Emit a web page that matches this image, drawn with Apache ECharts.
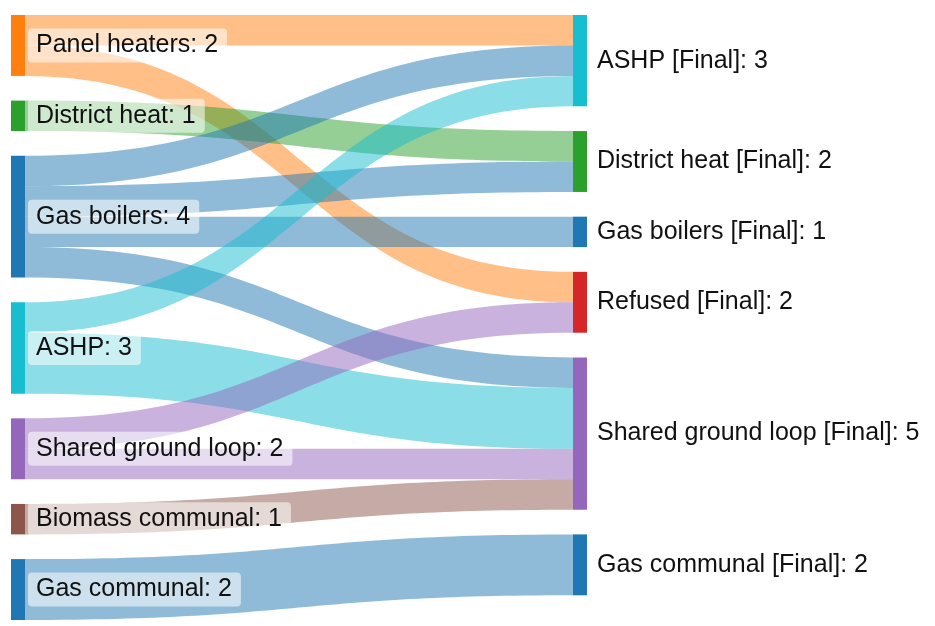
<!DOCTYPE html>
<html>
<head>
<meta charset="utf-8">
<script src="https://cdn.jsdelivr.net/npm/echarts@6/dist/echarts.min.js"></script>
<style>
html,body{margin:0;padding:0;background:#fff;}
#chart{width:935px;height:626px;}
</style>
</head>
<body>
<div id="chart"></div>
<script>
// Nodes (left column then right column), with displayed totals
const nodeNames = [
  'Panel heaters', 'District heat', 'Gas boilers', 'ASHP', 'Shared ground loop', 'Biomass communal', 'Gas communal',
  'ASHP [Final]', 'District heat [Final]', 'Gas boilers [Final]', 'Refused [Final]', 'Shared ground loop [Final]', 'Gas communal [Final]'
];
const nodeValues = [2, 1, 4, 3, 2, 1, 2, 3, 2, 1, 2, 5, 2];
const nodeColors = [
  '#ff7f0e', '#2ca02c', '#1f77b4', '#17becf', '#9467bd', '#8c564b', '#1f77b4',
  '#17becf', '#2ca02c', '#1f77b4', '#d62728', '#9467bd', '#1f77b4'
];
const leftCount = 7;

// Links
const linkSources = [
  'Panel heaters', 'Panel heaters',
  'District heat',
  'Gas boilers', 'Gas boilers', 'Gas boilers', 'Gas boilers',
  'ASHP', 'ASHP',
  'Shared ground loop', 'Shared ground loop',
  'Biomass communal',
  'Gas communal'
];
const linkTargets = [
  'ASHP [Final]', 'Refused [Final]',
  'District heat [Final]',
  'ASHP [Final]', 'District heat [Final]', 'Gas boilers [Final]', 'Shared ground loop [Final]',
  'ASHP [Final]', 'Shared ground loop [Final]',
  'Refused [Final]', 'Shared ground loop [Final]',
  'Shared ground loop [Final]',
  'Gas communal [Final]'
];
const linkValues = [1, 1, 1, 1, 1, 1, 1, 1, 2, 1, 1, 1, 2];

const nodes = nodeNames.map((n, i) => {
  const isLeft = i < leftCount;
  return {
    name: n,
    value: nodeValues[i],
    itemStyle: { color: nodeColors[i] },
    label: isLeft ? {
      position: 'right',
      distance: 3,
      backgroundColor: 'rgba(255,255,255,0.55)',
      borderRadius: 4,
      padding: [5, 9, 4, 8]
    } : {
      position: 'right',
      distance: 10
    }
  };
});
const links = linkSources.map((s, i) => ({ source: s, target: linkTargets[i], value: linkValues[i] }));

const chart = echarts.init(document.getElementById('chart'), null, { renderer: 'canvas' });
chart.setOption({
  backgroundColor: '#ffffff',
  animation: false,
  series: [{
    type: 'sankey',
    left: 11,
    top: 15,
    right: 348,
    bottom: 6,
    nodeWidth: 14,
    nodeGap: 24.7,
    nodeAlign: 'justify',
    layoutIterations: 0,
    draggable: false,
    emphasis: { disabled: true },
    data: nodes,
    links: links,
    itemStyle: { borderWidth: 0 },
    lineStyle: { color: 'source', opacity: 0.5, curveness: 0.5 },
    label: {
      show: true,
      formatter: '{b}: {c}',
      fontFamily: 'Liberation Sans, Arial, sans-serif',
      fontSize: 25,
      color: '#111'
    }
  }]
});
</script>
</body>
</html>
